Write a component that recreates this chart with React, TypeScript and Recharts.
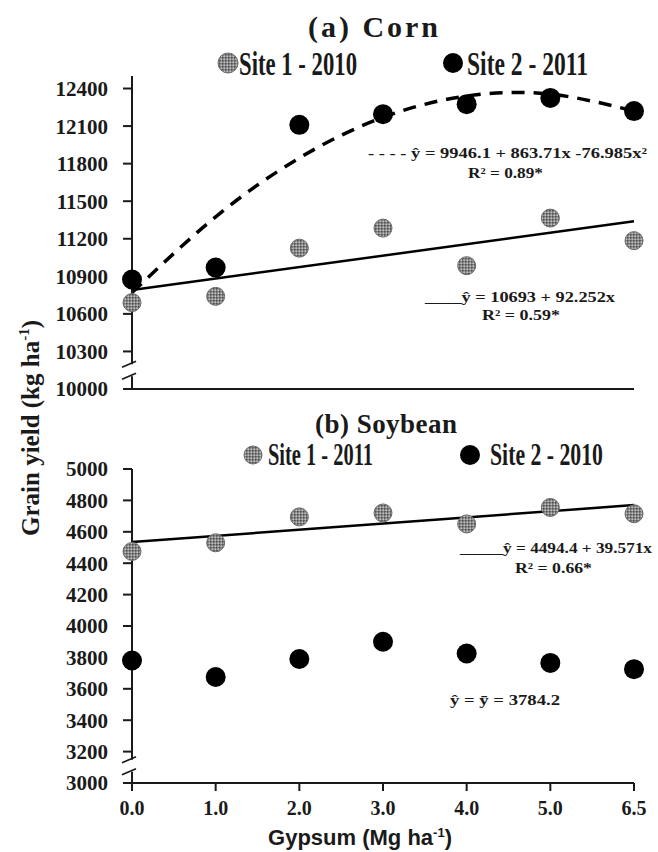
import {
  ComposedChart,
  Scatter,
  Line,
  XAxis,
  YAxis,
  ReferenceDot,
} from 'recharts';

const gypsum = ['0.0', '1.0', '2.0', '3.0', '4.0', '5.0', '6.5'];

// (a) corn, kg/ha
const cornSite1 = [10690, 10740, 11125, 11285, 10985, 11365, 11185];
const cornSite2 = [10875, 10970, 12110, 12195, 12275, 12325, 12220];
const cornQuadFit = [10770, 11375, 11845, 12170, 12340, 12355, 12220];
const cornLinFit = [10790, null, null, null, null, null, 11340];
const cornTicks = [10000, 10300, 10600, 10900, 11200, 11500, 11800, 12100, 12400];

// (b) soybean, kg/ha
const soySite1 = [4475, 4530, 4695, 4720, 4650, 4755, 4715];
const soySite2 = [3780, 3675, 3790, 3900, 3825, 3765, 3725];
const soyLinFit = [4535, null, null, null, null, null, 4770];
const soyTicks = [3000, 3200, 3400, 3600, 3800, 4000, 4200, 4400, 4600, 4800, 5000];

const cornRows = gypsum.map((g, i) => ({
  g,
  site1: cornSite1[i],
  site2: cornSite2[i],
  quad: cornQuadFit[i],
  lin: cornLinFit[i],
}));

const soyRows = gypsum.map((g, i) => ({
  g,
  site1: soySite1[i],
  site2: soySite2[i],
  lin: soyLinFit[i],
}));

const serif = '"Liberation Serif", "Times New Roman", serif';
const sans = '"Liberation Sans", Arial, sans-serif';
const ink = '#1a1a1a';

const axisStyle = { stroke: ink, strokeWidth: 2 };
const yTick = { fontSize: 21, fontWeight: 'bold', fill: ink, fontFamily: serif };

function GrayDot({ cx, cy, r = 9 }: any) {
  return <circle cx={cx} cy={cy} r={r} fill="url(#speckle)" stroke="#6a6a6a" strokeWidth={1} />;
}

function BlackDot({ cx, cy, r = 10 }: any) {
  return <circle cx={cx} cy={cy} r={r} fill="#000" />;
}

// the "//" break on the y axis
function AxisBreak({ cx, cy }: any) {
  return (
    <g>
      <rect x={cx - 4} y={cy - 6} width={8} height={12} fill="#fff" />
      <path d={`M${cx - 10},${cy - 3} L${cx + 4},${cy - 9}`} stroke={ink} strokeWidth={1.8} fill="none" />
      <path d={`M${cx - 10},${cy + 9} L${cx + 4},${cy + 3}`} stroke={ink} strokeWidth={1.8} fill="none" />
    </g>
  );
}

function XTick({ x, y, payload }: any) {
  return (
    <text x={x} y={y + 22} textAnchor="middle" fontSize={20} fontWeight="bold" fill={ink} fontFamily={serif}>
      {payload.value}
    </text>
  );
}

function Overlay() {
  const t = { fontFamily: serif, fontWeight: 'bold', fill: ink } as const;
  return (
    <svg width={658} height={852} style={{ position: 'absolute', left: 0, top: 0, pointerEvents: 'none' }}>
      <defs>
        <pattern id="speckle" width="3" height="3" patternUnits="userSpaceOnUse">
          <rect width="3" height="3" fill="#858585" />
          <rect width="1.5" height="1.5" fill="#505050" />
          <rect x="1.5" y="1.5" width="1.5" height="1.5" fill="#c0c0c0" />
        </pattern>
      </defs>

      {/* corn title + legend */}
      <text x={308} y={37} fontSize={30} textLength={130} lengthAdjust="spacing" {...t}>(a) Corn</text>
      <GrayDot cx={228} cy={63} r={10} />
      <text x={239} y={75} fontSize={34} textLength={118} lengthAdjust="spacingAndGlyphs" {...t}>Site 1 - 2010</text>
      <BlackDot cx={453} cy={63} r={10} />
      <text x={467} y={75} fontSize={34} textLength={121} lengthAdjust="spacingAndGlyphs" {...t}>Site 2 - 2011</text>

      {/* corn equations */}
      <text x={368} y={158} fontSize={15} textLength={279} lengthAdjust="spacingAndGlyphs" {...t}>
        - - - - ŷ = 9946.1 + 863.71x  -76.985x²
      </text>
      <text x={468} y={178} fontSize={15} textLength={75} lengthAdjust="spacingAndGlyphs" {...t}>R² = 0.89*</text>
      <text x={425} y={302} fontSize={15} textLength={190} lengthAdjust="spacingAndGlyphs" {...t}>____ŷ = 10693 + 92.252x</text>
      <text x={482} y={320} fontSize={15} textLength={78} lengthAdjust="spacingAndGlyphs" {...t}>R² = 0.59*</text>

      {/* soybean title + legend */}
      <text x={315} y={433} fontSize={27} textLength={142} lengthAdjust="spacing" {...t}>(b) Soybean</text>
      <GrayDot cx={253} cy={455} r={9} />
      <text x={268} y={465} fontSize={32} textLength={105} lengthAdjust="spacingAndGlyphs" {...t}>Site 1 - 2011</text>
      <BlackDot cx={470} cy={455} r={10} />
      <text x={490} y={465} fontSize={32} textLength={113} lengthAdjust="spacingAndGlyphs" {...t}>Site 2 - 2010</text>

      {/* soybean equations */}
      <text x={460} y={553} fontSize={15} textLength={192} lengthAdjust="spacingAndGlyphs" {...t}>_____ŷ = 4494.4 + 39.571x</text>
      <text x={515} y={573} fontSize={15} textLength={77} lengthAdjust="spacingAndGlyphs" {...t}>R² = 0.66*</text>
      <text x={450} y={705} fontSize={15} textLength={110} lengthAdjust="spacingAndGlyphs" {...t}>ŷ = ȳ =  3784.2</text>

      {/* axis titles */}
      <text transform="translate(39,428) rotate(-90)" textAnchor="middle" fontSize={25} {...t}>
        Grain yield (kg ha<tspan fontSize={15} dy={-10}>-1</tspan><tspan dy={10}>)</tspan>
      </text>
      <text x={360} y={845} textAnchor="middle" fontSize={22} fontWeight="bold" fill={ink} fontFamily={sans}>
        Gypsum (Mg ha<tspan fontSize={13} dy={-8}>-1</tspan><tspan dy={8}>)</tspan>
      </text>
    </svg>
  );
}

export default function App() {
  return (
    <div style={{ position: 'absolute', left: 0, top: 0, width: 658, height: 852, background: '#fff' }}>
      <div style={{ position: 'absolute', left: 0, top: 0 }}>
        <ComposedChart width={658} height={400} data={cornRows} margin={{ top: 76, right: 24, bottom: 3, left: 0 }}>
          <XAxis
            dataKey="g"
            type="category"
            scale="point"
            padding={{ left: 0, right: 0 }}
            height={8}
            tick={false}
            tickSize={7}
            axisLine={axisStyle}
            tickLine={axisStyle}
          />
          <YAxis
            type="number"
            domain={[10000, 12500]}
            ticks={cornTicks}
            interval={0}
            width={132}
            tickSize={9}
            tickMargin={15}
            tick={yTick}
            axisLine={axisStyle}
            tickLine={axisStyle}
          />
          <Scatter dataKey="site1" shape={<GrayDot />} isAnimationActive={false} />
          <Scatter dataKey="site2" shape={<BlackDot />} isAnimationActive={false} />
          <Line
            dataKey="quad"
            type="natural"
            stroke="#000"
            strokeWidth={3.5}
            strokeDasharray="13 9"
            dot={false}
            activeDot={false}
            isAnimationActive={false}
          />
          <Line
            dataKey="lin"
            type="linear"
            stroke="#000"
            strokeWidth={2.5}
            connectNulls
            dot={false}
            activeDot={false}
            isAnimationActive={false}
          />
          <ReferenceDot x="0.0" y={10150} ifOverflow="visible" shape={<AxisBreak />} />
        </ComposedChart>
      </div>
      <div style={{ position: 'absolute', left: 0, top: 400 }}>
        <ComposedChart width={658} height={452} data={soyRows} margin={{ top: 69, right: 24, bottom: 29, left: 0 }}>
          <XAxis
            dataKey="g"
            type="category"
            scale="point"
            padding={{ left: 0, right: 0 }}
            height={40}
            tick={<XTick />}
            interval={0}
            tickSize={8}
            tickMargin={2}
            axisLine={axisStyle}
            tickLine={axisStyle}
          />
          <YAxis
            type="number"
            domain={[3000, 5000]}
            ticks={soyTicks}
            interval={0}
            width={132}
            tickSize={9}
            tickMargin={15}
            tick={yTick}
            axisLine={axisStyle}
            tickLine={axisStyle}
          />
          <Scatter dataKey="site1" shape={<GrayDot />} isAnimationActive={false} />
          <Scatter dataKey="site2" shape={<BlackDot />} isAnimationActive={false} />
          <Line
            dataKey="lin"
            type="linear"
            stroke="#000"
            strokeWidth={2.5}
            connectNulls
            dot={false}
            activeDot={false}
            isAnimationActive={false}
          />
          <ReferenceDot x="0.0" y={3110} ifOverflow="visible" shape={<AxisBreak />} />
        </ComposedChart>
      </div>
      <Overlay />
    </div>
  );
}
